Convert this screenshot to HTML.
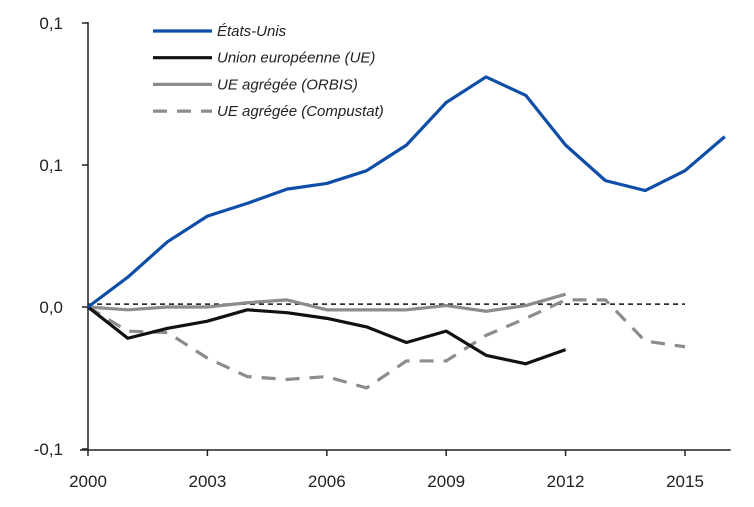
<!DOCTYPE html>
<html><head><meta charset="utf-8"><style>
body{margin:0;background:#fff;}
svg{display:block;font-family:"Liberation Sans",sans-serif;}
</style></head><body>
<svg id="chart" width="754" height="507"></svg>
<script>
const years=[2000,2001,2002,2003,2004,2005,2006,2007,2008,2009,2010,2011,2012,2013,2014,2015,2016];
const usValues=[0,0.021,0.046,0.064,0.073,0.083,0.087,0.096,0.114,0.144,0.162,0.149,0.114,0.089,0.082,0.096,0.120];
const euValues=[0,-0.022,-0.015,-0.010,-0.002,-0.004,-0.008,-0.014,-0.025,-0.017,-0.034,-0.040,-0.030];
const orbisValues=[0,-0.002,0,0,0.003,0.005,-0.002,-0.002,-0.002,0.001,-0.003,0.001,0.009];
const compustatValues=[0,-0.017,-0.018,-0.036,-0.049,-0.051,-0.049,-0.057,-0.038,-0.038,-0.020,-0.008,0.005,0.005,-0.024,-0.028];
const refValue=0.002;
const yTicks=[0.2,0.1,0,-0.1];
const yTickLabels=["0,1","0,1","0,0","-0,1"];
const xTicks=[2000,2003,2006,2009,2012,2015];
const legendLabels=["États-Unis","Union européenne (UE)","UE agrégée (ORBIS)","UE agrégée (Compustat)"];

const NS="http://www.w3.org/2000/svg";
const svg=document.getElementById('chart');
const X=y=>88+(y-2000)*39.8;
const Y=v=>307-v*1420;
function el(tag,attrs,parent){const e=document.createElementNS(NS,tag);for(const k in attrs)e.setAttribute(k,attrs[k]);(parent||svg).appendChild(e);return e;}

let a=el('line',{x1:88,y1:22,x2:88,y2:450,stroke:'#222','stroke-width':1.5});


a=el('line',{x1:80,y1:450,x2:X(2016)+6,y2:450,stroke:'#222','stroke-width':1.5});


yTicks.forEach((v,i)=>{
  const t=el('line',{x1:82,y1:Y(v),x2:88,y2:Y(v),stroke:'#222','stroke-width':1.5});
  
  
  const l=el('text',{x:63,y:Y(v)+6,'text-anchor':'end','font-size':17,fill:'#222'});
  l.textContent=yTickLabels[i];
  
  
});
xTicks.forEach(yr=>{
  const t=el('line',{x1:X(yr),y1:450,x2:X(yr),y2:456,stroke:'#222','stroke-width':1.5});
  
  
  const l=el('text',{x:X(yr),y:487,'text-anchor':'middle','font-size':17,fill:'#222'});
  l.textContent=yr;
  
  
});
const r=el('line',{x1:X(2000),y1:Y(refValue),x2:X(2015),y2:Y(refValue),stroke:'#111','stroke-width':1.5,'stroke-dasharray':'5,4'});



function series(vals,color,dash,name){
  const pts=vals.map((v,i)=>X(years[i])+','+Y(v)).join(' ');
  const p=el('polyline',{points:pts,fill:'none',stroke:color,'stroke-width':3.2,'stroke-linejoin':'round'});
  if(dash)p.setAttribute('stroke-dasharray',dash);
  
  
}
series(compustatValues,'#8c8c8c','14,10','series-compustat');
series(orbisValues,'#8c8c8c',null,'series-orbis');
series(euValues,'#111',null,'series-eu');
series(usValues,'#0e4ea8',null,'series-us');

const lc=[['#0e4ea8',null],['#111',null],['#8c8c8c',null],['#8c8c8c','14,10']];
legendLabels.forEach((lab,i)=>{
  const g=el('g',{});
  
  
  const yy=31+i*26.7;
  const ln=el('line',{x1:153,y1:yy,x2:212,y2:yy,stroke:lc[i][0],'stroke-width':3.2},g);
  if(lc[i][1])ln.setAttribute('stroke-dasharray',lc[i][1]);
  const t=el('text',{x:217,y:yy+5,'font-size':15,'font-style':'italic',fill:'#222'},g);
  t.textContent=lab;
});
</script>
</body></html>
